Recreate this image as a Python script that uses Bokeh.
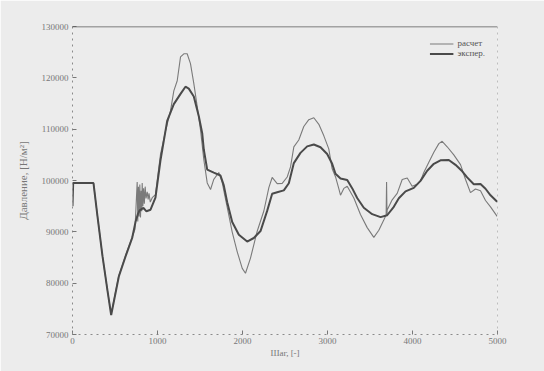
from bokeh.plotting import figure
from bokeh.models import (Range1d, LinearAxis, FixedTicker, BasicTickFormatter,
                          Legend, LegendItem, Span)
from bokeh.embed import file_html
from bokeh.resources import INLINE

# --- data -----------------------------------------------------------------
# calculated pressure ("расчет")
calc_step = [0, 247, 294, 353, 412, 455, 545, 624, 702, 735,
             761, 768, 776, 784, 792, 800, 808, 815, 820, 828,
             836, 845, 855, 865, 879, 890, 900, 915, 938, 976,
             1035, 1094, 1153, 1192, 1232, 1271, 1310, 1349, 1388, 1427,
             1467, 1506, 1545, 1585, 1624, 1662, 1721, 1761, 1800, 1839,
             1879, 1938, 1997, 2035, 2094, 2173, 2251, 2310, 2349, 2408,
             2467, 2526, 2565, 2604, 2662, 2721, 2780, 2839, 2898, 2957,
             3015, 3055, 3094, 3133, 3153, 3192, 3232, 3310, 3388, 3467,
             3545, 3604, 3662, 3690, 3695, 3700, 3702, 3761, 3820, 3879,
             3938, 3996, 4055, 4094, 4133, 4192, 4251, 4310, 4349, 4408,
             4486, 4565, 4624, 4682, 4741, 4800, 4859, 4918, 4996]
calc_pressure = [99500, 99500, 93000, 85250, 78500, 74000, 81500, 85400, 89000, 90500,
                 99700, 92000, 98800, 93000, 99200, 92800, 98000, 94000, 99500, 95000,
                 98500, 95500, 98800, 96500, 97800, 96300, 97500, 95800, 96650, 97260,
                 105070, 109630, 113560, 117470, 119440, 124070, 124680, 124700, 122780, 118910,
                 114450, 109860, 104050, 99530, 98250, 100220, 101560, 99630, 96400, 93250,
                 89960, 86110, 82890, 81940, 84880, 90120, 94060, 98620, 100590, 99400,
                 99430, 100680, 102650, 106560, 107900, 110520, 111850, 112220, 110940, 108700,
                 106150, 102280, 100740, 98420, 97140, 98460, 98870, 96580, 93370, 90820,
                 88920, 90310, 92300, 93300, 99700, 93300, 94260, 96240, 97490, 100190,
                 100480, 98890, 99260, 99920, 101560, 103540, 105510, 107180, 107640, 106570,
                 105000, 103090, 100200, 97640, 98330, 98020, 96110, 94860, 93020]

# measured pressure ("экспер.")
exp_step = [0, 8, 247, 294, 353, 412, 455, 545, 624, 702,
            741, 770, 790, 835, 870, 918, 976, 1035, 1114, 1192,
            1271, 1329, 1368, 1427, 1486, 1526, 1545, 1585, 1662, 1741,
            1780, 1820, 1879, 1957, 2055, 2133, 2212, 2290, 2349, 2408,
            2486, 2545, 2604, 2682, 2761, 2839, 2918, 2996, 3055, 3094,
            3153, 3232, 3290, 3349, 3427, 3526, 3624, 3702, 3780, 3839,
            3918, 4015, 4094, 4173, 4251, 4329, 4427, 4506, 4585, 4643,
            4721, 4800, 4859, 4918, 4996]
exp_pressure = [95000, 99500, 99500, 93000, 85250, 78500, 73800, 81300, 85200, 88800,
                91900, 93500, 94200, 94650, 94000, 94310, 96670, 103930, 111600, 114880,
                116870, 118270, 117900, 116380, 112510, 109230, 105990, 102120, 101520, 100980,
                99060, 95780, 91910, 89420, 88110, 88800, 90150, 94080, 97410, 97700,
                98070, 99470, 103390, 105380, 106650, 107020, 106480, 105160, 103250, 101320,
                100380, 100090, 98510, 96600, 94690, 93440, 92860, 93230, 94880, 96530,
                97880, 98570, 99920, 101910, 103250, 103940, 103990, 103050, 101800, 100600,
                99280, 99320, 98390, 97120, 95870]

x_ticks = [0, 1000, 2000, 3000, 4000, 5000]
y_ticks = [70000, 80000, 90000, 100000, 110000, 120000, 130000]

x_title = "Шаг, [-]"
y_title = "Давление, [Н/м²]"
legend_labels = ["расчет", "экспер."]

X_MIN, X_MAX = x_ticks[0], x_ticks[-1]
Y_MIN, Y_MAX = y_ticks[0], y_ticks[-1]

# --- figure ---------------------------------------------------------------
BG = "#ececec"
TXT = "#777777"
FONT = "Liberation Serif"

p = figure(width=544, height=371, output_backend="svg", toolbar_location=None,
           x_range=Range1d(X_MIN, X_MAX), y_range=Range1d(Y_MIN, Y_MAX),
           x_axis_location=None, y_axis_location=None,
           min_border_left=72, min_border_right=47,
           min_border_top=26, min_border_bottom=37)
p.background_fill_color = BG
p.border_fill_color = BG
p.outline_line_alpha = 0
p.xgrid.visible = False
p.ygrid.visible = False


def style_axis(ax):
    ax.axis_line_color = "#8a8a8a"
    ax.axis_line_dash = "dotted"
    ax.axis_line_width = 1
    ax.major_tick_in = 4
    ax.major_tick_out = 0
    ax.major_tick_line_color = "#777777"
    ax.minor_tick_line_color = None
    ax.major_label_text_font = FONT
    ax.major_label_text_font_size = "9px"
    ax.major_label_text_color = TXT
    ax.axis_label_text_font = FONT
    ax.axis_label_text_font_style = "normal"
    ax.axis_label_text_color = TXT


xb = LinearAxis(ticker=FixedTicker(ticks=x_ticks))
style_axis(xb)
xb.major_label_standoff = 3
xb.axis_label = x_title
xb.axis_label_text_font_size = "9px"
xb.axis_label_standoff = 1
p.add_layout(xb, "below")

yl = LinearAxis(ticker=FixedTicker(ticks=y_ticks),
                formatter=BasicTickFormatter(use_scientific=False))
style_axis(yl)
yl.major_label_standoff = 4
yl.axis_label = y_title
yl.axis_label_text_font_size = "11px"
yl.axis_label_standoff = 10
p.add_layout(yl, "left")

# frame: solid top edge, dotted right edge
p.add_layout(Span(location=Y_MAX, dimension="width",
                  line_color="#555555", line_width=1.5))
p.add_layout(Span(location=X_MAX, dimension="height",
                  line_color="#8a8a8a", line_width=1, line_dash="dotted"))

# curves
r_calc = p.line(calc_step, calc_pressure, line_color="#7a7a7a", line_width=1.1)
r_exp = p.line(exp_step, exp_pressure, line_color="#4a4a4a", line_width=2)

legend = Legend(items=[LegendItem(label=legend_labels[0], renderers=[r_calc]),
                       LegendItem(label=legend_labels[1], renderers=[r_exp])],
                location="top_right")
legend.background_fill_alpha = 0
legend.border_line_alpha = 0
legend.label_text_font = FONT
legend.label_text_font_size = "9px"
legend.label_text_color = "#555555"
legend.label_height = 9
legend.glyph_height = 9
legend.glyph_width = 24
legend.spacing = 0
legend.padding = 2
legend.margin = 10
legend.label_standoff = 4
p.add_layout(legend)

open("out.html", "w").write(file_html(p, INLINE))
